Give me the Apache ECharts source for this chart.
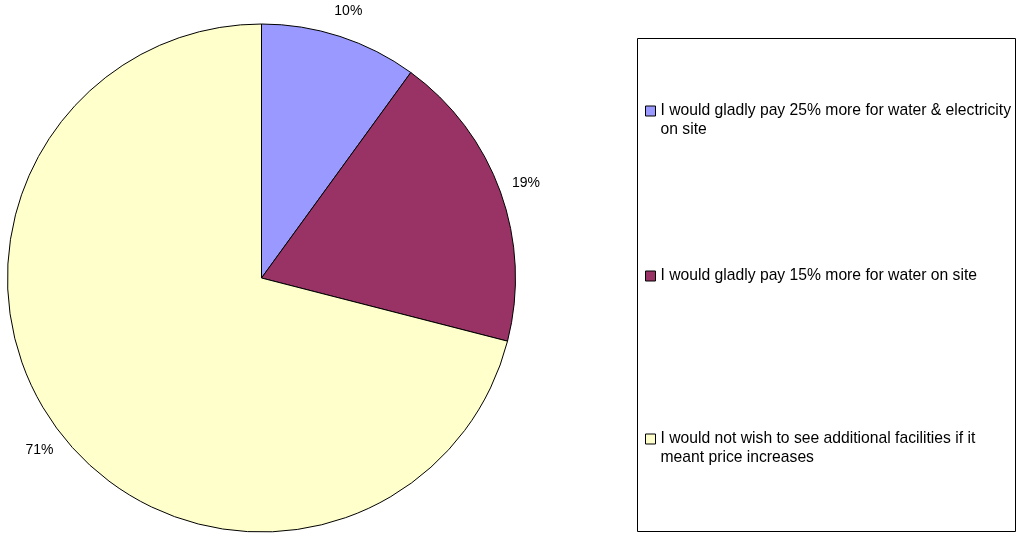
<!DOCTYPE html>
<html>
<head>
    <meta charset="utf-8" />
    <title>Facilities pie</title>
    <script src="https://cdn.jsdelivr.net/npm/echarts@6/dist/echarts.min.js"></script>
    <style>
        html, body { margin: 0; padding: 0; background: #fff; }
        #container { width: 1018px; height: 534px; }
    </style>
</head>
<body>
    <div id="container"></div>
    <script type="text/javascript">
    // answers, in clockwise order from 12 o'clock
    var categories = [
        'I would gladly pay 25% more for water & electricity on site',
        'I would gladly pay 15% more for water on site',
        'I would not wish to see additional facilities if it meant price increases'
    ];
    var values = [10, 19, 71];
    // how the legend text breaks onto lines
    var legendText = [
        'I would gladly pay 25% more for water & electricity\non site',
        'I would gladly pay 15% more for water on site',
        'I would not wish to see additional facilities if it\nmeant price increases'
    ];
    var colors = ['#9999FF', '#993366', '#FFFFCC'];

    var font = '"Liberation Sans", Arial, sans-serif';
    var legendTops = [82.5, 266.5, 410.5];

    var pieData = [];
    for (var i = 0; i < categories.length; i++) {
        pieData.push({ name: categories[i], value: values[i] });
    }

    function legendLabel(name) {
        var t = legendText[categories.indexOf(name)];
        // empty first line so the marker sits level with the first text line
        if (t.indexOf('\n') >= 0) t = ' \n' + t;
        return t;
    }

    var legends = [];
    for (var j = 0; j < categories.length; j++) {
        legends.push({
            data: [categories[j]],
            left: 645,
            top: legendTops[j],
            padding: 0,
            orient: 'vertical',
            icon: 'rect',
            itemWidth: 10,
            itemHeight: 10,
            itemStyle: { borderColor: '#000', borderWidth: 1 },
            selectedMode: false,
            formatter: legendLabel,
            textStyle: {
                fontFamily: font,
                fontSize: 15.7,
                lineHeight: 19,
                color: '#000'
            }
        });
    }

    var option = {
        backgroundColor: '#fff',
        animation: false,
        color: colors,
        legend: legends,
        graphic: [{
            type: 'rect',
            shape: { x: 637.5, y: 38.5, width: 378, height: 493 },
            style: { fill: 'none', stroke: '#000', lineWidth: 1 },
            silent: true
        }],
        series: [{
            type: 'pie',
            center: [261.5, 278],
            radius: 254,
            startAngle: 90,
            clockwise: true,
            itemStyle: { borderColor: '#000', borderWidth: 1 },
            label: { show: false },
            labelLine: { show: false },
            emphasis: { disabled: true },
            data: pieData
        }, {
            // invisible ring just to place the percentage labels
            type: 'pie',
            center: [261.5, 278],
            radius: [254, 302],
            startAngle: 90,
            clockwise: true,
            silent: true,
            itemStyle: { color: 'rgba(0,0,0,0)', borderWidth: 0 },
            label: {
                show: true,
                position: 'inside',
                fontFamily: font,
                fontSize: 14,
                color: '#000',
                formatter: function (p) {
                    return Math.round(p.percent) + '%';
                }
            },
            labelLine: { show: false },
            emphasis: { disabled: true },
            data: pieData
        }]
    };

    var myChart = echarts.init(document.getElementById('container'));
    myChart.setOption(option);
    </script>
</body>
</html>
